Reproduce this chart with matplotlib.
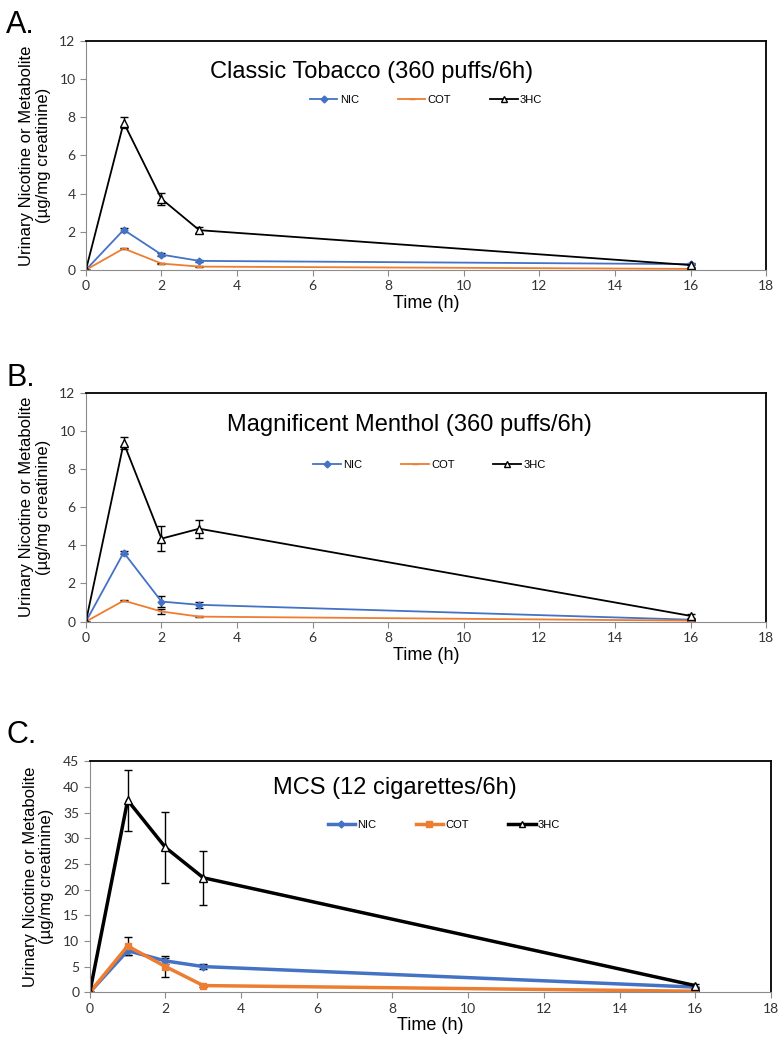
import numpy as np
import matplotlib
matplotlib.use("Agg")
import matplotlib.pyplot as plt
from matplotlib.lines import Line2D

plt.rcParams['font.family'] = ['Liberation Sans', 'DejaVu Sans']

time_h = [0, 1, 2, 3, 16]

# A. Classic Tobacco
a_nic = [0, 2.1, 0.8, 0.47, 0.3]
a_nic_err = [0, 0.1, 0.07, 0.07, 0.03]
a_cot = [0, 1.12, 0.33, 0.17, 0.05]
a_cot_err = [0, 0.04, 0.04, 0.03, 0.01]
a_3hc = [0, 7.72, 3.72, 2.08, 0.25]
a_3hc_err = [0, 0.28, 0.32, 0.15, 0.1]

# B. Magnificent Menthol
b_nic = [0, 3.62, 1.05, 0.88, 0.1]
b_nic_err = [0, 0.1, 0.28, 0.15, 0.05]
b_cot = [0, 1.1, 0.53, 0.26, 0.05]
b_cot_err = [0, 0.04, 0.12, 0.03, 0.01]
b_3hc = [0, 9.37, 4.35, 4.87, 0.3]
b_3hc_err = [0, 0.3, 0.65, 0.48, 0.12]

# C. MCS
c_nic = [0, 8.1, 6.1, 5.0, 1.0]
c_nic_err = [0, 0.8, 0.6, 0.5, 0.1]
c_cot = [0, 9.0, 5.0, 1.3, 0.2]
c_cot_err = [0, 1.8, 2.0, 0.2, 0.05]
c_3hc = [0, 37.4, 28.2, 22.3, 1.3]
c_3hc_err = [0, 5.9, 7.0, 5.3, 0.3]

blue = '#4472C4'
orange = '#ED7D31'
gray = '#8c8c8c'


def panel(ax, nic, nic_e, cot, cot_e, hc, hc_e, ymax, ystep, title, tpos, lpos, lw, cot_marker):
    ax.errorbar(time_h, nic, yerr=nic_e, color=blue, lw=lw, marker='D', ms=3.5,
                ecolor='black', elinewidth=1, capsize=3)
    ax.errorbar(time_h, cot, yerr=cot_e, color=orange, lw=lw, marker=cot_marker, ms=4,
                ecolor='black', elinewidth=1, capsize=3)
    ax.errorbar(time_h, hc, yerr=hc_e, color='black', lw=lw, marker='^', ms=5.5,
                mfc='white', mec='black', ecolor='black', elinewidth=1, capsize=3)
    ax.set_xlim(0, 18)
    ax.set_ylim(0, ymax)
    ax.set_xticks(np.arange(0, 19, 2))
    ax.set_yticks(np.arange(0, ymax + 0.1, ystep))
    for s in ['left', 'bottom']:
        ax.spines[s].set_color(gray)
    for s in ['top', 'right']:
        ax.spines[s].set_color('black')
        ax.spines[s].set_linewidth(1.3)
    ax.tick_params(colors=gray, labelcolor='#333333', labelsize=10, length=4)
    for lab in ax.get_xticklabels() + ax.get_yticklabels():
        lab.set_family('Lato')
    ax.set_xlabel('Time (h)', fontsize=13, labelpad=2)
    ax.set_ylabel('Urinary Nicotine or Metabolite\n(\u00b5g/mg creatinine)', fontsize=12,
                  linespacing=1.1)
    ax.yaxis.set_label_coords(-0.052, 0.5)
    ax.text(tpos[0], tpos[1], title, transform=ax.transAxes, ha='center', va='center',
            fontsize=17)
    handles = [
        Line2D([], [], color=blue, lw=lw, marker='D', ms=3.5),
        Line2D([], [], color=orange, lw=lw, marker=cot_marker, ms=4),
        Line2D([], [], color='black', lw=lw, marker='^', ms=4, mfc='white'),
    ]
    ax.legend(handles, ['NIC', 'COT', '3HC'], loc='center', bbox_to_anchor=lpos, ncol=3,
              frameon=False, fontsize=8, handlelength=2.5, columnspacing=3.5,
              handletextpad=0.2)


fig = plt.figure(figsize=(7.81, 10.5), dpi=100)
axA = fig.add_axes([0.110, 0.743, 0.871, 0.218])
axB = fig.add_axes([0.110, 0.408, 0.871, 0.218])
axC = fig.add_axes([0.115, 0.055, 0.872, 0.220])

panel(axA, a_nic, a_nic_err, a_cot, a_cot_err, a_3hc, a_3hc_err, 12, 2,
      'Classic Tobacco (360 puffs/6h)', (0.42, 0.865), (0.5, 0.742), 1.3, '_')
panel(axB, b_nic, b_nic_err, b_cot, b_cot_err, b_3hc, b_3hc_err, 12, 2,
      'Magnificent Menthol (360 puffs/6h)', (0.476, 0.86), (0.505, 0.686), 1.3, '_')
panel(axC, c_nic, c_nic_err, c_cot, c_cot_err, c_3hc, c_3hc_err, 45, 5,
      'MCS (12 cigarettes/6h)', (0.448, 0.883), (0.52, 0.723), 2.5, 's')

fig.text(0.008, 0.976, 'A.', fontsize=22, va='center')
fig.text(0.008, 0.640, 'B.', fontsize=22, va='center')
fig.text(0.008, 0.300, 'C.', fontsize=22, va='center')

fig.savefig('out.png', dpi=100)
